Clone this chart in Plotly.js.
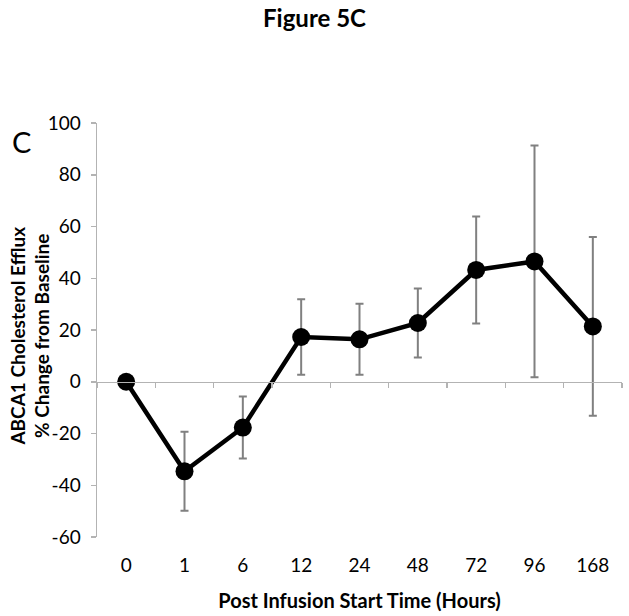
<!DOCTYPE html>
<html>
<head>
<meta charset="utf-8">
<script src="https://cdn.plot.ly/plotly-3.0.1.min.js"></script>
<style>html,body{margin:0;padding:0;background:#fff}#chart{width:629px;height:616px}</style>
</head>
<body>
<div id="chart"></div>
<script>
// Data
const categories  = ["0", "1", "6", "12", "24", "48", "72", "96", "168"];
const pctChange   = [0, -34.6, -17.7, 17.3, 16.4, 22.7, 43.2, 46.5, 21.4];
const errorSD     = [0, 15.3, 12.0, 14.6, 13.7, 13.3, 20.7, 44.8, 34.5];
const yTicks      = [-60, -40, -20, 0, 20, 40, 60, 80, 100];
const yTickLabels = ["-60", "-40", "-20", "0", "20", "40", "60", "80", "100"];

const FONT = "Lato, 'Open Sans', sans-serif";

const main = {
  type: 'scatter', mode: 'lines+markers',
  x: categories, y: pctChange,
  line: {color: '#000000', width: 4.5},
  marker: {color: '#000000', size: 18},
  error_y: {type: 'data', array: errorSD, visible: true, color: '#808080', thickness: 2, width: 4},
  showlegend: false, hoverinfo: 'x+y'
};
// invisible companion trace so the zero-line category axis gets its boundary ticks
const axisHelper = {
  type: 'scatter', mode: 'markers',
  x: categories, y: pctChange,
  xaxis: 'x2', yaxis: 'y',
  marker: {opacity: 0}, showlegend: false, hoverinfo: 'skip'
};

const layout = {
  width: 629, height: 616,
  paper_bgcolor: '#ffffff', plot_bgcolor: '#ffffff',
  margin: {l: 97, r: 7, t: 123, b: 79},
  font: {family: FONT, color: '#000000'},
  title: {text: '<b>Figure 5C</b>', x: 0.5, xref: 'container', y: 1 - 19/616, yref: 'container',
          yanchor: 'middle', xanchor: 'center', font: {size: 24, family: FONT}},
  xaxis: {
    type: 'category', categoryorder: 'array', categoryarray: categories,
    range: [-0.5, 8.5], showline: false, showgrid: false, zeroline: false,
    ticks: '', ticklabelstandoff: 15, tickfont: {size: 19},
    title: {text: '<b>Post Infusion Start Time (Hours)</b>', font: {size: 20}, standoff: 18}
  },
  xaxis2: {
    type: 'category', categoryorder: 'array', categoryarray: categories,
    range: [-0.5, 8.5], overlaying: 'x', anchor: 'free', position: 60/160,
    showline: true, linecolor: '#b3b3b3', linewidth: 1.5,
    ticks: 'outside', tickson: 'boundaries', ticklen: 5, tickcolor: '#b3b3b3', tickwidth: 1.5,
    showticklabels: false, showgrid: false, zeroline: false
  },
  yaxis: {
    range: [-60, 100], tickmode: 'array', tickvals: yTicks, ticktext: yTickLabels,
    showline: true, linecolor: '#b3b3b3', linewidth: 1.5,
    ticks: 'outside', ticklen: 5, tickcolor: '#b3b3b3', tickwidth: 1.5,
    tickfont: {size: 19}, ticklabelstandoff: 6,
    showgrid: false, zeroline: false
  },
  annotations: [
    {text: '<b>ABCA1 Cholesterol Efflux<br>% Change from Baseline</b>', textangle: -90,
     xref: 'paper', yref: 'paper', x: (30-97)/522, y: (537-336)/414,
     xanchor: 'center', yanchor: 'middle', showarrow: false, font: {size: 19}},
    {text: 'C', xref: 'paper', yref: 'paper', x: (22-97)/522, y: (537-141)/414,
     xanchor: 'center', yanchor: 'middle', showarrow: false, font: {size: 29}}
  ]
};

Plotly.newPlot('chart', [axisHelper, main], layout, {displayModeBar: false, staticPlot: true});
</script>
</body>
</html>
